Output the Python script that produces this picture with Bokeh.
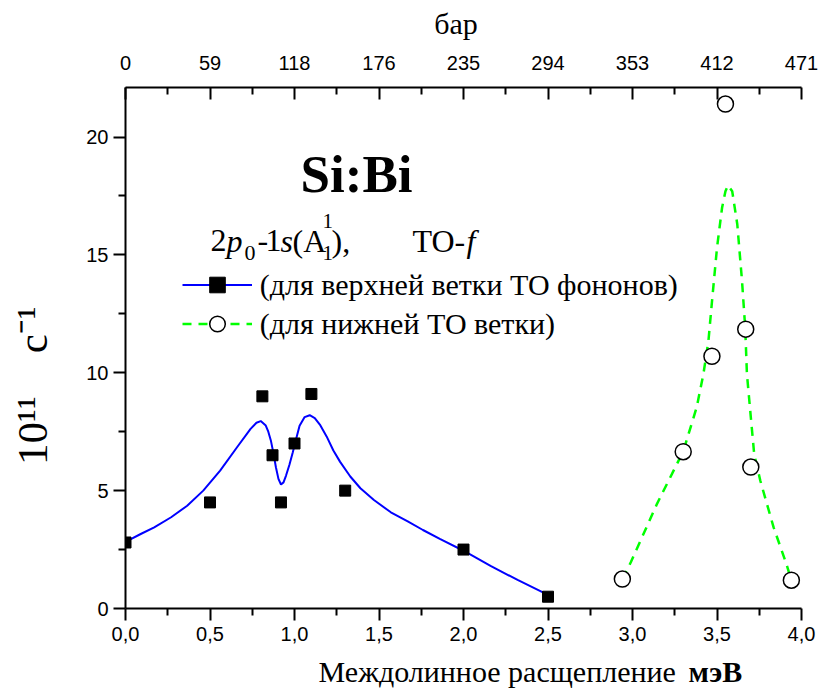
import math
from bokeh.plotting import figure
from bokeh.models import (LinearAxis, FixedTicker, Label, Legend, LegendItem,
                          Range1d, CustomJSTickFormatter, Title)
from bokeh.embed import file_html
from bokeh.resources import INLINE

# ---------------- data ----------------
# upper TO branch: measured points
upper_x = [0.0, 0.5, 0.81, 0.87, 0.92, 1.0, 1.1, 1.3, 2.0, 2.5]
upper_y = [2.8, 4.5, 9.0, 6.5, 4.5, 7.0, 9.1, 5.0, 2.5, 0.5]
# upper TO branch: fitted curve
upper_fit_x = [0.0, 0.09, 0.17, 0.27, 0.365, 0.46, 0.56, 0.66, 0.74, 0.775, 0.80,
               0.83, 0.845, 0.86, 0.875, 0.89, 0.905, 0.92, 0.935, 0.95, 0.97,
               0.99, 1.01, 1.03, 1.06, 1.09, 1.12, 1.15, 1.19, 1.23, 1.27, 1.33,
               1.39, 1.47, 1.57, 1.67, 1.76, 1.86, 2.0, 2.16, 2.32, 2.5]
upper_fit_y = [2.83, 3.16, 3.44, 3.87, 4.36, 5.0, 5.85, 6.84, 7.62, 7.88, 7.95,
               7.76, 7.5, 7.13, 6.6, 5.99, 5.5, 5.26, 5.35, 5.64, 6.1,
               6.63, 7.2, 7.75, 8.12, 8.2, 8.08, 7.8, 7.3, 6.7, 6.22, 5.6,
               5.1, 4.6, 4.08, 3.7, 3.33, 2.95, 2.45, 1.81, 1.21, 0.58]
# lower TO branch: measured points
lower_x = [2.94, 3.30, 3.47, 3.55, 3.67, 3.70, 3.94]
lower_y = [1.25, 6.65, 10.7, 21.4, 11.85, 6.0, 1.2]
# lower TO branch: fitted curve
lower_fit_x = [2.94, 2.99, 3.145, 3.30, 3.38, 3.42, 3.45, 3.47, 3.50, 3.53, 3.55,
               3.565, 3.59, 3.62, 3.648, 3.667, 3.677, 3.70, 3.72, 3.756, 3.835,
               3.91, 3.94]
lower_fit_y = [1.25, 1.96, 4.44, 6.66, 8.54, 9.96, 11.4, 13.0, 15.3, 17.0, 17.7,
               17.95, 17.7, 16.3, 13.9, 11.9, 9.96, 8.12, 6.56, 5.43, 3.44,
               1.9, 1.2]

x_ticks = [0.0, 0.5, 1.0, 1.5, 2.0, 2.5, 3.0, 3.5, 4.0]
x_minor = [0.25, 0.75, 1.25, 1.75, 2.25, 2.75, 3.25, 3.75]
y_ticks = [0, 5, 10, 15, 20]
y_minor = [2.5, 7.5, 12.5, 17.5]
top_labels = ["0", "59", "118", "176", "235", "294", "353", "412", "471"]

# ---------------- figure ----------------
W, H = 824, 693
FL, FR, FT, FB = 125, 23, 87, 85
XMAX, YMAX = 4.0, 22.1

p = figure(width=W, height=H, x_range=Range1d(0, XMAX), y_range=Range1d(0, YMAX),
           output_backend="svg", toolbar_location=None,
           x_axis_location=None, y_axis_location=None)
p.min_border_left = FL
p.min_border_right = FR
p.min_border_top = FT
p.min_border_bottom = FB
p.xgrid.visible = False
p.ygrid.visible = False
p.outline_line_color = None
p.background_fill_color = "white"
p.border_fill_color = "white"

TICK_FONT = "Liberation Sans"
SERIF = "Liberation Serif"
NB = "\u00a0"

def style_axis(ax):
    ax.axis_line_width = 2
    ax.major_tick_line_width = 2
    ax.minor_tick_line_width = 2
    ax.axis_line_color = "black"
    ax.major_tick_line_color = "black"
    ax.minor_tick_line_color = "black"
    ax.major_label_text_font = TICK_FONT
    ax.major_label_text_font_size = "20px"
    ax.major_label_text_color = "black"
    ax.axis_label_text_font = SERIF
    ax.axis_label_text_font_style = "normal"
    ax.axis_label_text_color = "black"

bottom = LinearAxis(ticker=FixedTicker(ticks=x_ticks, minor_ticks=x_minor),
                    formatter=CustomJSTickFormatter(code="return tick.toFixed(1).replace('.', ',');"))
style_axis(bottom)
bottom.major_tick_out = 12
bottom.major_tick_in = 0
bottom.minor_tick_out = 7
bottom.minor_tick_in = 0
bottom.major_label_standoff = 6
bottom.axis_label = NB * 9 + "Междолинное расщепление"
bottom.axis_label_text_font_size = "30px"
bottom.axis_label_standoff = 11
p.add_layout(bottom, "below")

top = LinearAxis(ticker=FixedTicker(ticks=x_ticks, minor_ticks=x_minor),
                 formatter=CustomJSTickFormatter(args=dict(labels=top_labels),
                                                 code="return labels[Math.round(tick / 0.5)];"))
style_axis(top)
top.major_tick_out = 0
top.major_tick_in = 12
top.minor_tick_out = 0
top.minor_tick_in = 7
top.major_label_standoff = 18
top.axis_label = "бар" + NB * 2
top.axis_label_text_font_size = "30px"
top.axis_label_standoff = 13
p.add_layout(top, "above")

left = LinearAxis(ticker=FixedTicker(ticks=y_ticks, minor_ticks=y_minor))
style_axis(left)
left.major_tick_out = 12
left.major_tick_in = 0
left.minor_tick_out = 7
left.minor_tick_in = 0
left.major_label_standoff = 5
left.axis_label = "10¹¹" + NB * 4 + "с⁻¹" + NB * 7
left.axis_label_text_font_size = "43px"
left.axis_label_standoff = 27
p.add_layout(left, "left")

# bold unit of the bottom axis, on the same line as the axis title
t_unit = Title(text="мэВ", align="left", offset=563, standoff=-72,
               vertical_align="top", text_font=SERIF, text_font_size="30px",
               text_font_style="bold", text_color="black")
p.add_layout(t_unit, "below")

# ---------------- glyphs ----------------
r1 = p.line(upper_fit_x, upper_fit_y, line_color="#0000FF", line_width=2)
r3 = p.line(lower_fit_x, lower_fit_y, line_color="#00FF00", line_width=2.5, line_dash="9 7")
r2 = p.scatter(upper_x, upper_y, marker="square", size=11, fill_color="black", line_color="black")
r4 = p.scatter(lower_x, lower_y, marker="circle", size=16, fill_color="white",
               line_color="black", line_width=1.5)

legend = Legend(items=[
    LegendItem(label="(для верхней ветки ТО фононов)", renderers=[r1, r2]),
    LegendItem(label="(для нижней ТО ветки)", renderers=[r3, r4]),
], location=(56.7, 265))
legend.border_line_color = None
legend.background_fill_alpha = 0
legend.padding = 0
legend.margin = 0
legend.spacing = 0
legend.glyph_width = 70
legend.glyph_height = 39
legend.label_height = 39
legend.label_standoff = 8
legend.label_text_font = SERIF
legend.label_text_font_size = "30px"
legend.label_text_color = "black"
p.add_layout(legend)

# ---------------- texts inside the frame ----------------
fw = (W - FL - FR) / XMAX
fh = (H - FT - FB) / YMAX

def dx(px):
    return (px - FL) / fw

def dy(py):
    return (H - FB - py) / fh

def txt(px, py, s, size, style="normal", align="left"):
    p.add_layout(Label(x=dx(px), y=dy(py), text=s, text_font=SERIF,
                       text_font_size=f"{size}px", text_font_style=style,
                       text_align=align, text_baseline="alphabetic",
                       text_color="black"))

txt(356, 173, "Si:Bi", 53, "bold", "center")

# 2p0-1s(A1^1), TO-f
txt(210, 240, "2", 32)
txt(226, 240, "p", 32, "italic")
txt(244, 252, "0", 22)
txt(257, 240, "-", 32)
txt(265, 240, "1", 32)
txt(280, 240, "s", 32, "italic")
txt(292, 240, "(A", 32)
txt(322, 220, "1", 21)
txt(322, 252, "1", 21)
txt(331, 240, "),", 32)
txt(412, 240, "TO-", 32)
txt(466, 240, "f", 32, "italic")

open("out.html", "w").write(file_html(p, INLINE))
